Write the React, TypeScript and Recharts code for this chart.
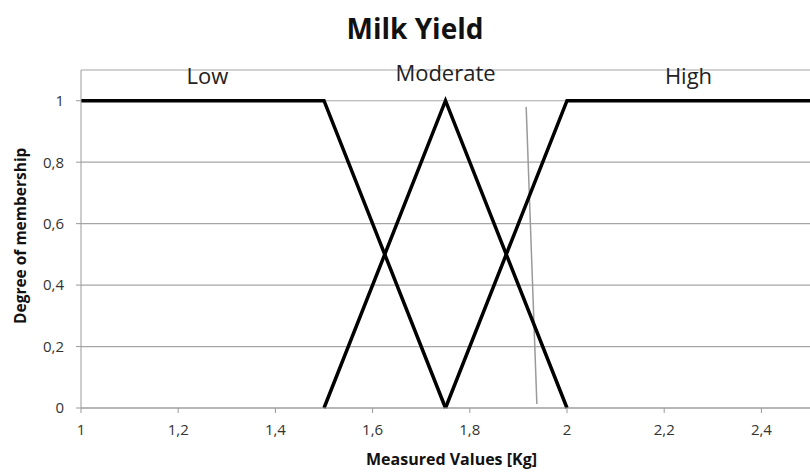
import React from 'react';
import {
  LineChart,
  Line,
  XAxis,
  YAxis,
  CartesianGrid,
  ReferenceDot,
} from 'recharts';

interface Pt {
  x: number;
  y: number;
}

const lowSet: Pt[] = [
  { x: 1, y: 1 },
  { x: 1.5, y: 1 },
  { x: 1.75, y: 0 },
];

const moderateSet: Pt[] = [
  { x: 1.5, y: 0 },
  { x: 1.75, y: 1 },
  { x: 2, y: 0 },
];

const highSet: Pt[] = [
  { x: 1.75, y: 0 },
  { x: 2, y: 1 },
  { x: 2.5, y: 1 },
];

// thin grey stroke across the plot
const markerLine: Pt[] = [
  { x: 1.916, y: 0.98 },
  { x: 1.938, y: 0.013 },
];

const setLabels = [
  { text: 'Low', x: 1.26, y: 1.08 },
  { text: 'Moderate', x: 1.75, y: 1.09 },
  { text: 'High', x: 2.25, y: 1.08 },
];

const xTicks = [1, 1.2, 1.4, 1.6, 1.8, 2, 2.2, 2.4];
const yTicks = [0, 0.2, 0.4, 0.6, 0.8, 1];

const FONT = '"Open Sans", "Liberation Sans", sans-serif';

const fmt = (v: number) => String(Math.round(v * 10) / 10).replace('.', ',');

export default function App() {
  return (
    <div style={{ position: 'absolute', left: 0, top: 0, width: 810, height: 474, background: '#fff', fontFamily: FONT }}>
      <div
        style={{
          position: 'absolute',
          top: 9,
          left: 0,
          width: 830,
          textAlign: 'center',
          fontSize: 28,
          fontWeight: 700,
          color: '#111',
        }}
      >
        Milk Yield
      </div>
      <LineChart width={810} height={474} margin={{ top: 70, right: 0, bottom: 0, left: 0 }}>
        <CartesianGrid vertical={false} stroke="#a6a6a6" strokeWidth={1.2} />
        <XAxis
          dataKey="x"
          type="number"
          domain={[1, 2.5]}
          ticks={xTicks}
          tickFormatter={fmt}
          allowDataOverflow
          height={66}
          stroke="#9a9a9a"
          tickSize={5}
          tick={{ fill: '#333', fontSize: 15, fontFamily: FONT }}
          tickMargin={11}
          label={{
            value: 'Measured Values [Kg]',
            position: 'insideBottom',
            offset: 9,
            dx: 6,
            style: { fill: '#111', fontSize: 16, fontWeight: 700, fontFamily: FONT },
          }}
        />
        <YAxis
          dataKey="y"
          type="number"
          domain={[0, 1.1]}
          ticks={yTicks}
          tickFormatter={fmt}
          width={81}
          stroke="#9a9a9a"
          tickSize={5}
          tickMargin={12}
          tick={{ fill: '#333', fontSize: 15, fontFamily: FONT }}
          label={{
            value: 'Degree of membership',
            angle: -90,
            position: 'insideLeft',
            offset: 20,
            dy: 85,
            style: { fill: '#111', fontSize: 15.5, fontWeight: 700, fontFamily: FONT },
          }}
        />
        <Line data={markerLine} dataKey="y" stroke="#9a9a9a" strokeWidth={1.5} dot={false} isAnimationActive={false} />
        <Line data={lowSet} dataKey="y" type="linear" stroke="#000" strokeWidth={3.5} dot={false} isAnimationActive={false} />
        <Line data={moderateSet} dataKey="y" type="linear" stroke="#000" strokeWidth={3.5} dot={false} isAnimationActive={false} />
        <Line data={highSet} dataKey="y" type="linear" stroke="#000" strokeWidth={3.5} dot={false} isAnimationActive={false} />
        {setLabels.map((l) => (
          <ReferenceDot
            key={l.text}
            x={l.x}
            y={l.y}
            r={0}
            stroke="none"
            fill="none"
            label={{ value: l.text, position: 'center', style: { fill: '#222', fontSize: 22, fontFamily: FONT } }}
          />
        ))}
      </LineChart>
    </div>
  );
}
